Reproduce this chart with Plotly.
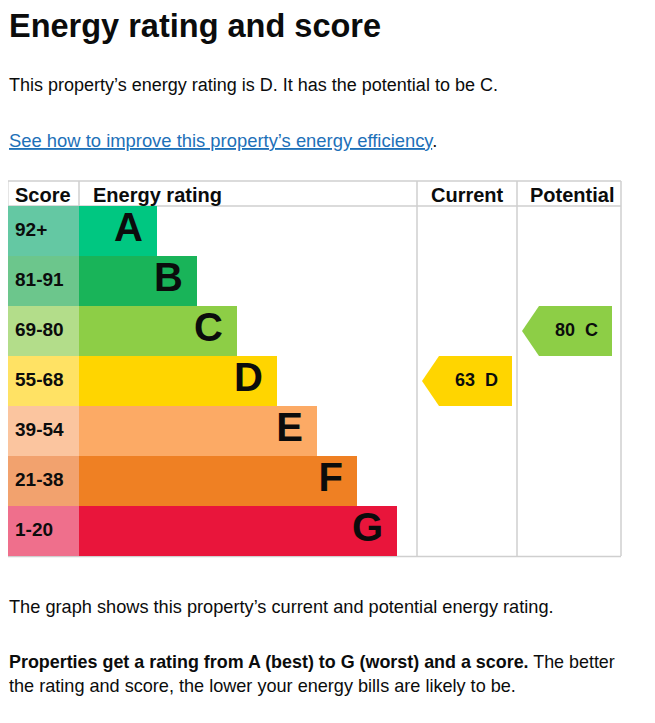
import plotly.graph_objects as go

# ---------------- data ----------------
bands = ["A", "B", "C", "D", "E", "F", "G"]
score_ranges = ["92+", "81-91", "69-80", "55-68", "39-54", "21-38", "1-20"]
band_min = [92, 81, 69, 55, 39, 21, 1]
bar_colors = ["#00c781", "#19b459", "#8dce46", "#ffd500", "#fcaa65", "#ef8023", "#e9153b"]
score_colors = ["#64c8a3", "#6cc68c", "#b3dd8a", "#ffe264", "#fbc59f", "#f2a26e", "#ef6f8c"]
current_score = 63
potential_score = 80
headers = ["Score", "Energy rating", "Current", "Potential"]

# ---------------- geometry (page px) ----------------
OFF = 8                     # default body margin of the html page
W, H = 655 - OFF, 723 - OFF
def px(x): return (x - OFF) / W
def py(y): return 1 - (y - OFF) / H

TL, TR = 7, 621          # table left/right
TTOP, HB, TBOT = 181, 206, 556
SCORE_W = 72
BAR_BASE_LEN, BAR_STEP = 78, 40
CUR_X0, POT_X0 = 410, 510   # axis units (px from table left)
ARROW_DEPTH = 17

def band_index(score):
    for i, m in enumerate(band_min):
        if score >= m:
            return i
    return len(bands) - 1

idx = list(range(len(bands)))
bar_len = [BAR_BASE_LEN + BAR_STEP * i for i in idx]

fig = go.Figure()

# score cells
fig.add_trace(go.Bar(y=idx, x=[SCORE_W] * len(bands), base=0, orientation="h",
                     marker=dict(color=score_colors, line=dict(width=0)), width=1,
                     hoverinfo="skip"))
# rating bars
fig.add_trace(go.Bar(y=idx, x=bar_len, base=SCORE_W, orientation="h",
                     marker=dict(color=bar_colors, line=dict(width=0)), width=1,
                     hoverinfo="skip"))
# score labels
fig.add_trace(go.Scatter(y=idx, x=[8] * len(bands), mode="text", text=score_ranges,
                         textposition="middle right",
                         textfont=dict(family="Liberation Sans, Arial", size=19, color="#0b0c0c", weight="bold"),
                         hoverinfo="skip"))
# band letters
fig.add_trace(go.Scatter(y=idx, x=[SCORE_W + l - 14 for l in bar_len], mode="text", text=bands,
                         textposition="middle left",
                         textfont=dict(family="Liberation Sans, Arial", size=40, color="#0b0c0c", weight="bold"),
                         hoverinfo="skip"))

# arrows
def add_arrow(score, col_x0):
    i = band_index(score)
    tip = col_x0 + 5
    flat = tip + ARROW_DEPTH
    right = col_x0 + 95
    fig.add_trace(go.Scatter(x=[tip, flat, right, right, flat, tip],
                             y=[i, i - 0.5, i - 0.5, i + 0.5, i + 0.5, i],
                             fill="toself", fillcolor=bar_colors[i], mode="lines",
                             line=dict(width=0, color=bar_colors[i]), hoverinfo="skip"))
    fig.add_trace(go.Scatter(x=[right - 14], y=[i], mode="text",
                             text=[f"{score}&nbsp;&nbsp;{bands[i]}"], textposition="middle left",
                             textfont=dict(family="Liberation Sans, Arial", size=18, color="#0b0c0c", weight="bold"),
                             hoverinfo="skip"))

add_arrow(current_score, CUR_X0)
add_arrow(potential_score, POT_X0)

# table lines
LC = "#cfcfcf"
LW = 1.5
shapes = [
    dict(type="line", xref="paper", yref="paper", x0=px(TL), x1=px(TR), y0=py(TTOP), y1=py(TTOP)),
    dict(type="line", xref="paper", yref="paper", x0=px(TL), x1=px(TR), y0=py(HB), y1=py(HB)),
    dict(type="line", xref="paper", yref="paper", x0=px(TL), x1=px(TR), y0=py(TBOT + 0.5), y1=py(TBOT + 0.5)),
    dict(type="line", xref="paper", yref="paper", x0=px(TL + 0.8), x1=px(TL + 0.8), y0=py(TTOP), y1=py(HB)),
    dict(type="line", xref="paper", yref="paper", x0=px(TL + SCORE_W), x1=px(TL + SCORE_W), y0=py(TTOP), y1=py(HB)),
    dict(type="line", xref="paper", yref="paper", x0=px(TL + CUR_X0), x1=px(TL + CUR_X0), y0=py(TTOP), y1=py(TBOT)),
    dict(type="line", xref="paper", yref="paper", x0=px(TL + POT_X0), x1=px(TL + POT_X0), y0=py(TTOP), y1=py(TBOT)),
    dict(type="line", xref="paper", yref="paper", x0=px(TR), x1=px(TR), y0=py(TTOP), y1=py(TBOT)),
]
for s in shapes:
    s["line"] = dict(color=LC, width=LW)
    s["layer"] = "below"

BODY = "Liberation Sans, Arial"
TXT = "#0b0c0c"
ann = []
def text(x, y, t, size, bold=False, color=TXT, xanchor="left", font=BODY):
    ann.append(dict(x=px(x), y=py(y), xref="paper", yref="paper", text=t, showarrow=False,
                    xanchor=xanchor, yanchor="middle", align="left", borderpad=0,
                    font=dict(family=font, size=size, color=color, weight="bold" if bold else "normal")))

text(OFF, 26.5, "Energy rating and score", 32.5, bold=True)
text(OFF, 85, "This property’s energy rating is D. It has the potential to be C.", 18)
text(OFF, 140, '<span style="text-decoration:underline">See how to improve this property’s energy efficiency</span>'
     '<span style="color:#0b0c0c">.</span>', 18.4, color="#1d70b8")
# headers
text(14, 195, headers[0], 20, bold=True)
text(92, 195, headers[1], 20, bold=True)
text(467, 195, headers[2], 20, bold=True, xanchor="center")
text(572, 195, headers[3], 20, bold=True, xanchor="center")
# bottom text
text(OFF, 607, "The graph shows this property’s current and potential energy rating.", 18.2)
text(OFF, 662, "<b>Properties get a rating from A (best) to G (worst) and a score.</b> The better", 17.9)
text(OFF, 686, "the rating and score, the lower your energy bills are likely to be.", 18.1)

fig.update_layout(
    width=W, height=H, margin=dict(l=0, r=0, t=0, b=0),
    paper_bgcolor="white", plot_bgcolor="white",
    showlegend=False, barmode="overlay", bargap=0,
    xaxis=dict(domain=[0, 1], range=[OFF - TL, OFF - TL + W], visible=False, fixedrange=True),
    yaxis=dict(domain=[py(TBOT), py(HB)], range=[len(bands) - 0.5, -0.5], visible=False, fixedrange=True),
    shapes=shapes, annotations=ann,
)

fig.write_html("out.html")
